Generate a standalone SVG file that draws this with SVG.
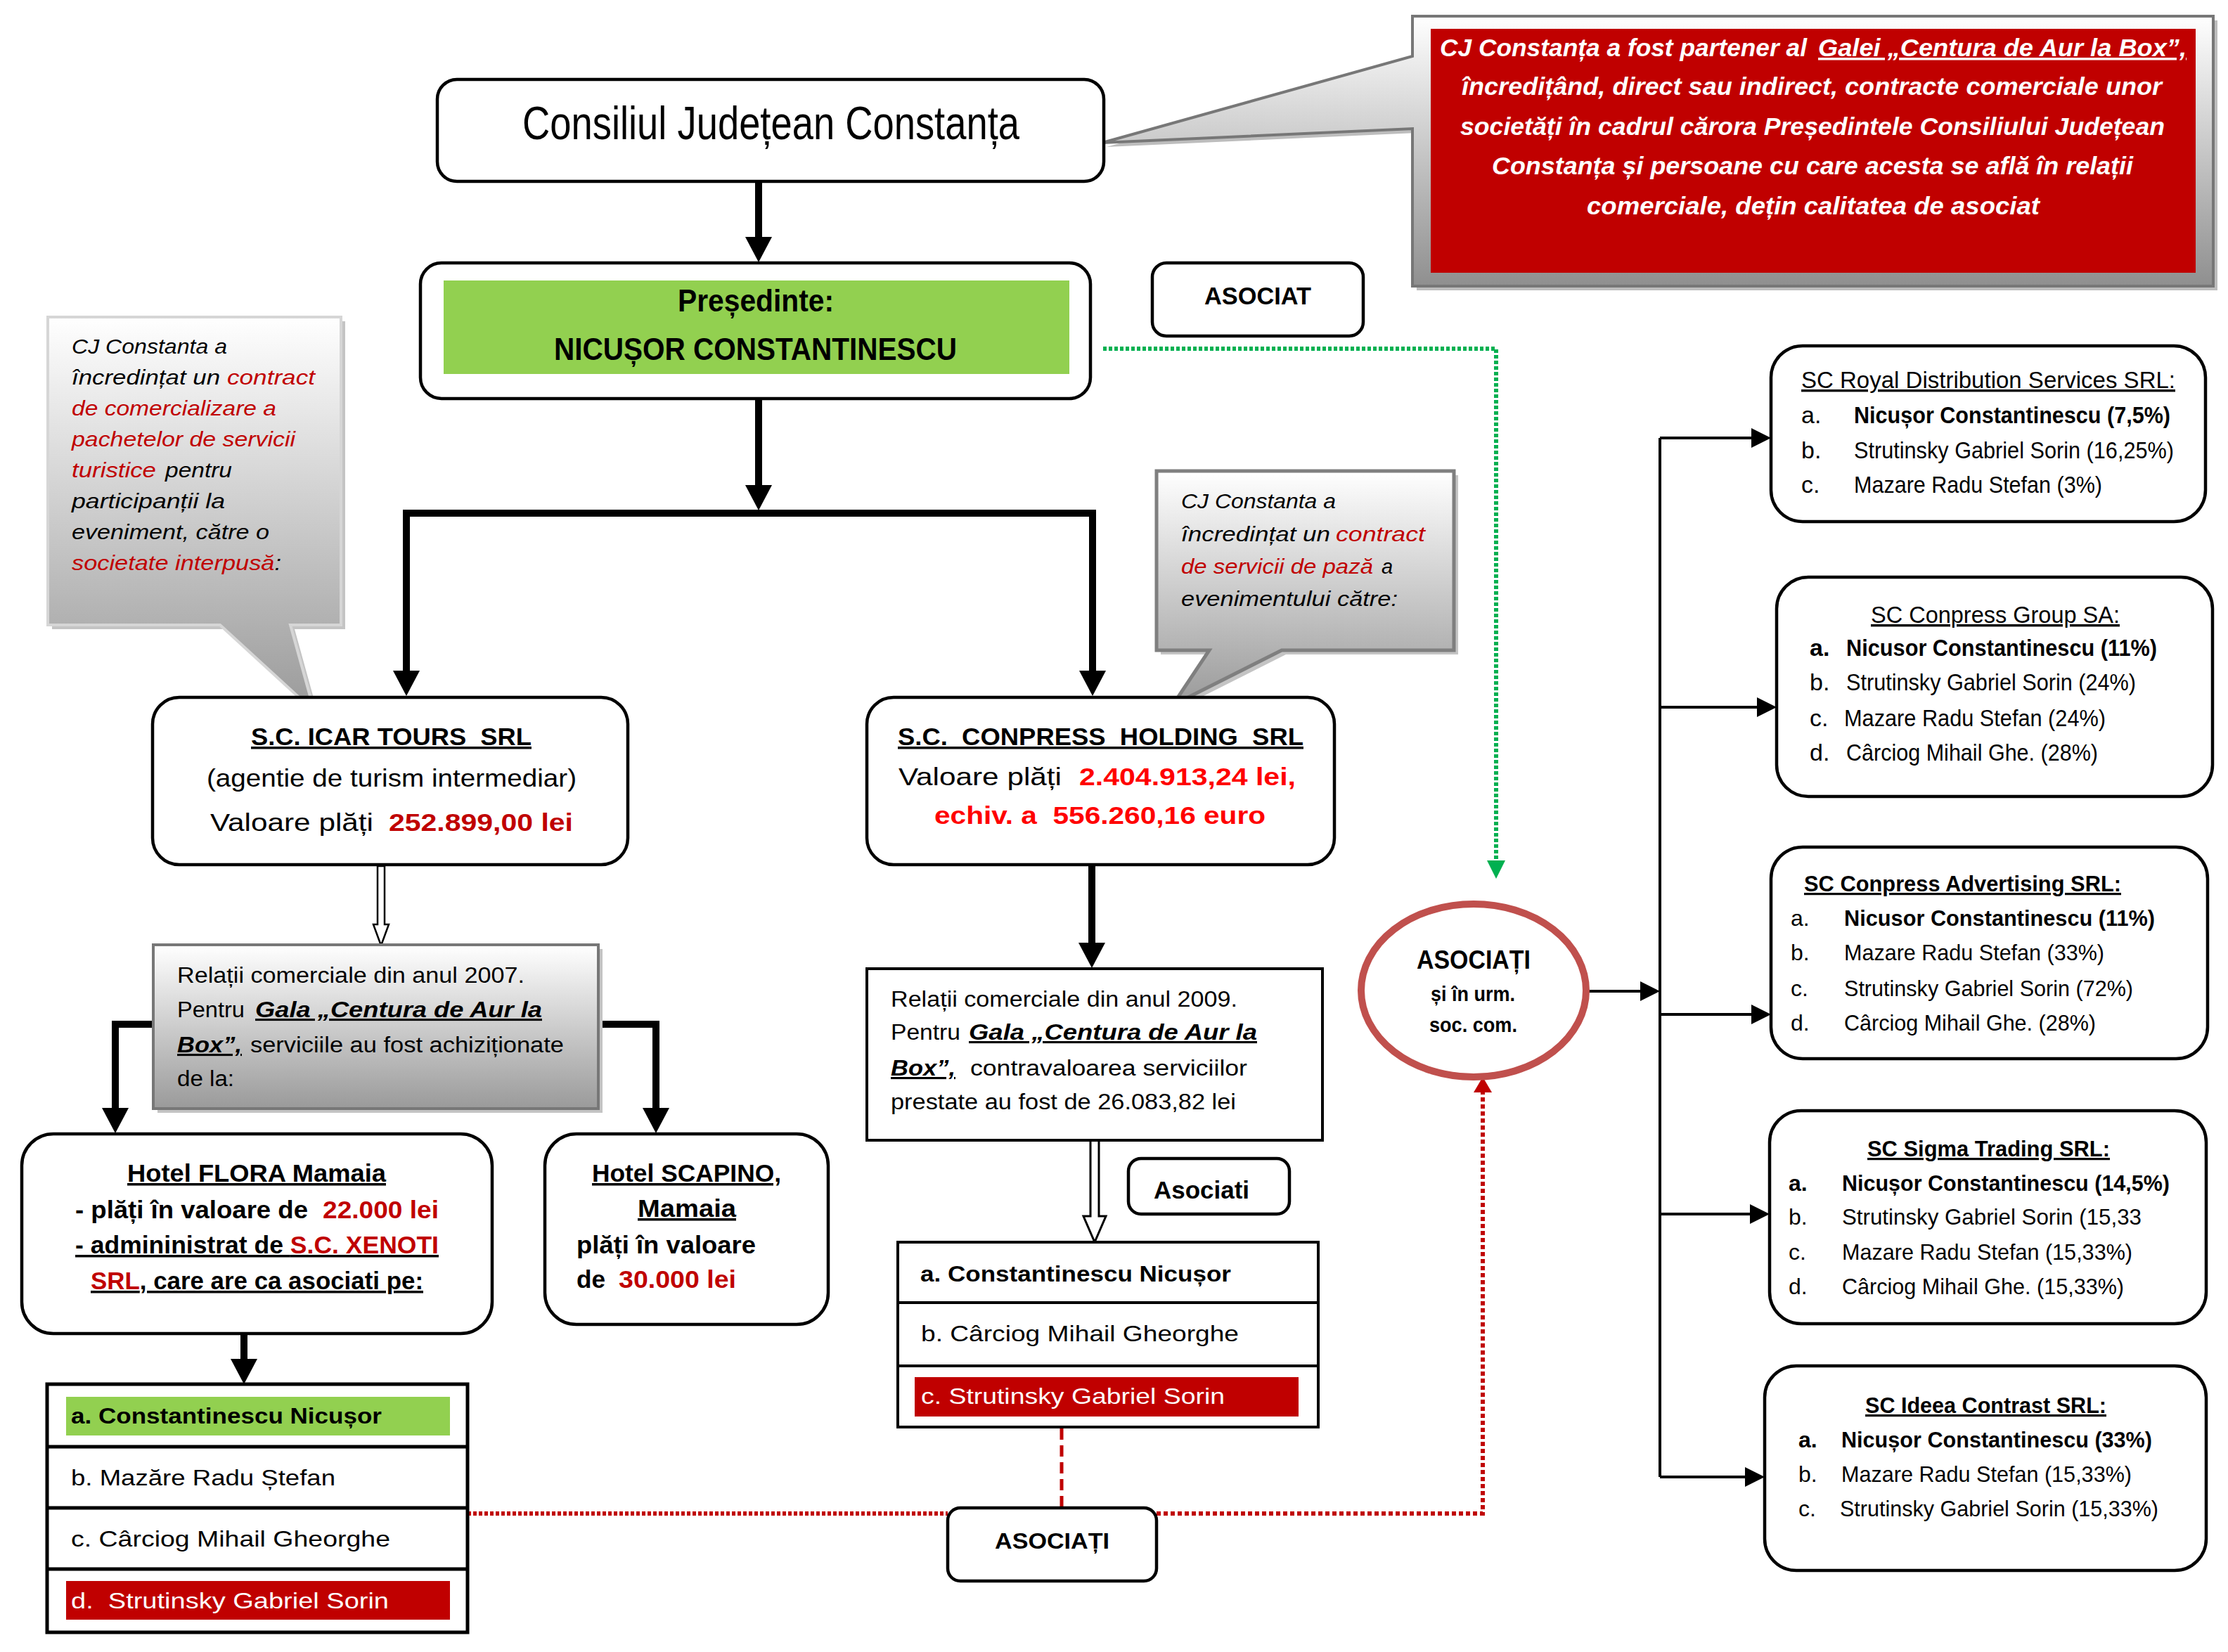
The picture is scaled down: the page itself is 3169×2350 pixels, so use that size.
<svg xmlns="http://www.w3.org/2000/svg" width="3169" height="2350" viewBox="0 0 3169 2350">
<style>
text{font-family:"Liberation Sans",Arial,sans-serif;fill:#000}
.b{font-weight:bold}
.i{font-style:italic}
.u{text-decoration:underline}
.pre{white-space:pre}
.dr{fill:#C00000}
.br{fill:#FF0000}
.w{fill:#fff}
.box{fill:#fff;stroke:#000;stroke-width:4.5}
.thick{fill:none;stroke:#000;stroke-width:10}
.thin{fill:none;stroke:#000;stroke-width:4}
.f35{font-size:35px}
.f31{font-size:31px}
.f29{font-size:29px}
.f32{font-size:32px}
.f34{font-size:34px}
</style>
<defs>
<linearGradient id="gc" x1="0" y1="0" x2="0" y2="1">
<stop offset="0" stop-color="#ffffff"/><stop offset="1" stop-color="#9a9a9a"/>
</linearGradient>
<linearGradient id="gb" x1="0" y1="0" x2="0" y2="1">
<stop offset="0" stop-color="#ffffff"/><stop offset="1" stop-color="#8f8f8f"/>
</linearGradient>
<marker id="ah" markerUnits="userSpaceOnUse" markerWidth="36" markerHeight="38" viewBox="0 0 36 38" refX="0" refY="19" orient="auto-start-reverse"><path d="M0,0 L36,19 L0,38 z" fill="#000"/></marker>
<marker id="ah2" markerUnits="userSpaceOnUse" markerWidth="28" markerHeight="28" viewBox="0 0 28 28" refX="0" refY="14" orient="auto"><path d="M0,0 L28,14 L0,28 z" fill="#000"/></marker>
<marker id="ahg" markerUnits="userSpaceOnUse" markerWidth="26" markerHeight="26" viewBox="0 0 26 26" refX="0" refY="13" orient="auto"><path d="M0,0 L26,13 L0,26 z" fill="#00B050"/></marker>
<marker id="ahr" markerUnits="userSpaceOnUse" markerWidth="22" markerHeight="26" viewBox="0 0 22 26" refX="0" refY="13" orient="auto"><path d="M0,0 L22,13 L0,26 z" fill="#C00000"/></marker>
</defs>
<rect width="3169" height="2350" fill="#fff"/>

<g id="connectors">
<path class="thick" d="M1079,258 V337" marker-end="url(#ah)"/>
<path class="thick" d="M1079,567 V690" marker-end="url(#ah)"/>
<path class="thick" d="M578,954 V730 H1554 V954" marker-start="url(#ah)" marker-end="url(#ah)"/>
<path class="thick" d="M1553,1230 V1341" marker-end="url(#ah)"/>
<path class="thick" d="M218,1457 H164 V1576" marker-end="url(#ah)"/>
<path class="thick" d="M851,1457 H933 V1576" marker-end="url(#ah)"/>
<path class="thick" d="M347,1897 V1933" marker-end="url(#ah)"/>
<polygon points="537,1232 547,1232 547,1315 553,1315 542,1345 531,1315 537,1315" fill="#fff" stroke="#000" stroke-width="2.5"/>
<polygon points="1551,1622 1563,1622 1563,1730 1573,1730 1557,1767 1541,1730 1551,1730" fill="#fff" stroke="#000" stroke-width="3"/>
<path d="M1569,496 H2128 V1224" fill="none" stroke="#00B050" stroke-width="6" stroke-dasharray="5 3" marker-end="url(#ahg)"/>
<path d="M665,2153 H1348" fill="none" stroke="#C00000" stroke-width="6" stroke-dasharray="5 3"/>
<path d="M1645,2153 H2109 V1554" fill="none" stroke="#C00000" stroke-width="6" stroke-dasharray="6 4" marker-end="url(#ahr)"/>
<path d="M1510,2032 V2145" fill="none" stroke="#C00000" stroke-width="5" stroke-dasharray="16 8"/>
<path class="thin" d="M2255,1410 H2333" marker-end="url(#ah2)"/>
<path class="thin" d="M2361,623 V2101"/>
<path class="thin" d="M2361,623 H2491" marker-end="url(#ah2)"/>
<path class="thin" d="M2361,1006 H2499" marker-end="url(#ah2)"/>
<path class="thin" d="M2361,1443 H2491" marker-end="url(#ah2)"/>
<path class="thin" d="M2361,1727 H2489" marker-end="url(#ah2)"/>
<path class="thin" d="M2361,2101 H2482" marker-end="url(#ah2)"/>
</g>

<g id="callout-red">
<path d="M2015,29 H3154 V413 H2015 V189 L1574,209 L2015,86 Z" fill="#bdbdbd"/>
<path d="M2009,23 H3148 V407 H2009 V183 L1568,203 L2009,80 Z" fill="url(#gb)" stroke="#777" stroke-width="4"/>
<rect x="2035" y="41" width="1088" height="347" fill="#C00000"/>
<text class="b i w" font-size="35" x="2048" y="80" textLength="522" lengthAdjust="spacingAndGlyphs">CJ Constanța a fost partener al</text>
<text class="b i w u" font-size="35" x="2586" y="80" textLength="524" lengthAdjust="spacingAndGlyphs">Galei „Centura de Aur la Box”,</text>
<text class="b i w" font-size="35" x="2079" y="135" textLength="996" lengthAdjust="spacingAndGlyphs">încredițând, direct sau indirect, contracte comerciale unor</text>
<text class="b i w" font-size="35" x="2077" y="192" textLength="1002" lengthAdjust="spacingAndGlyphs">societăți în cadrul cărora Președintele Consiliului Județean</text>
<text class="b i w" font-size="35" x="2122" y="248" textLength="912" lengthAdjust="spacingAndGlyphs">Constanța și persoane cu care acesta se află în relații</text>
<text class="b i w" font-size="35" x="2257" y="305" textLength="644" lengthAdjust="spacingAndGlyphs">comerciale, dețin calitatea de asociat</text>
</g>

<g id="consiliul">
<rect class="box" x="622" y="113" width="948" height="145" rx="28"/>
<text font-size="66" x="743" y="198" textLength="707" lengthAdjust="spacingAndGlyphs">Consiliul Județean Constanța</text>
</g>

<g id="presedinte">
<rect class="box" x="598" y="374" width="953" height="193" rx="30"/>
<rect x="631" y="399" width="890" height="133" fill="#92D050"/>
<text class="b" font-size="44" x="964" y="443" textLength="222" lengthAdjust="spacingAndGlyphs">Președinte:</text>
<text class="b" font-size="44" x="788" y="512" textLength="573" lengthAdjust="spacingAndGlyphs">NICUȘOR CONSTANTINESCU</text>
</g>

<g id="asociat-label">
<rect class="box" x="1639" y="374" width="300" height="104" rx="20"/>
<text class="b f35" x="1713" y="433" textLength="152" lengthAdjust="spacingAndGlyphs">ASOCIAT</text>
</g>

<g id="callout-left">
<path d="M74,457 H491 V895 H419 L453,1018 L319,895 H74 Z" fill="#c4c4c4"/>
<path d="M68,451 H485 V889 H413 L447,1012 L313,889 H68 Z" fill="url(#gc)" stroke="#d6d6d6" stroke-width="4"/>
<text class="i f29" x="102" y="503" textLength="221" lengthAdjust="spacingAndGlyphs">CJ Constanta a</text>
<text class="i f29" x="102" y="547" textLength="211" lengthAdjust="spacingAndGlyphs">încredințat un</text>
<text class="i f29 dr" x="323" y="547" textLength="125" lengthAdjust="spacingAndGlyphs">contract</text>
<text class="i f29 dr" x="102" y="591" textLength="291" lengthAdjust="spacingAndGlyphs">de comercializare a</text>
<text class="i f29 dr" x="102" y="635" textLength="318" lengthAdjust="spacingAndGlyphs">pachetelor de servicii</text>
<text class="i f29 dr" x="102" y="679" textLength="120" lengthAdjust="spacingAndGlyphs">turistice</text>
<text class="i f29" x="235" y="679" textLength="95" lengthAdjust="spacingAndGlyphs">pentru</text>
<text class="i f29" x="102" y="723" textLength="218" lengthAdjust="spacingAndGlyphs">participanții la</text>
<text class="i f29" x="102" y="767" textLength="281" lengthAdjust="spacingAndGlyphs">eveniment, către o</text>
<text class="i f29" x="102" y="811" textLength="298" lengthAdjust="spacingAndGlyphs"><tspan class="dr">societate interpusă</tspan>:</text>
</g>

<g id="callout-right">
<path d="M1651,676 H2074 V931 H1829 L1674,1009 L1726,931 H1651 Z" fill="#c4c4c4"/>
<path d="M1645,670 H2068 V925 H1823 L1668,1003 L1720,925 H1645 Z" fill="url(#gc)" stroke="#7f7f7f" stroke-width="5"/>
<text class="i f29" x="1680" y="723" textLength="220" lengthAdjust="spacingAndGlyphs">CJ Constanta a</text>
<text class="i f29" x="1680" y="770" textLength="212" lengthAdjust="spacingAndGlyphs">încredințat un</text>
<text class="i f29 dr" x="1900" y="770" textLength="127" lengthAdjust="spacingAndGlyphs">contract</text>
<text class="i f29 dr" x="1680" y="816" textLength="273" lengthAdjust="spacingAndGlyphs">de servicii de pază</text>
<text class="i f29" x="1965" y="816">a</text>
<text class="i f29" x="1680" y="862" textLength="308" lengthAdjust="spacingAndGlyphs">evenimentului către:</text>
</g>

<g id="icar">
<rect class="box" x="217" y="992" width="676" height="238" rx="38"/>
<text class="b u f35 pre" x="357" y="1060" textLength="399" lengthAdjust="spacingAndGlyphs">S.C. ICAR TOURS  SRL</text>
<text class="f35" x="294" y="1119" textLength="526" lengthAdjust="spacingAndGlyphs">(agentie de turism intermediar)</text>
<text class="f35" x="299" y="1182" textLength="232" lengthAdjust="spacingAndGlyphs">Valoare plăți</text>
<text class="b f35 dr" x="553" y="1182" textLength="262" lengthAdjust="spacingAndGlyphs">252.899,00 lei</text>
</g>

<g id="conpress-holding">
<rect class="box" x="1233" y="992" width="665" height="238" rx="38"/>
<text class="b u f35 pre" x="1277" y="1060" textLength="577" lengthAdjust="spacingAndGlyphs">S.C.  CONPRESS  HOLDING  SRL</text>
<text class="f35" x="1278" y="1117" textLength="232" lengthAdjust="spacingAndGlyphs">Valoare plăți</text>
<text class="b f35 br" x="1535" y="1117" textLength="308" lengthAdjust="spacingAndGlyphs">2.404.913,24 lei,</text>
<text class="b f35 br pre" x="1329" y="1172" textLength="471" lengthAdjust="spacingAndGlyphs">echiv. a  556.260,16 euro</text>
</g>

<g id="relatii-2007">
<rect x="224" y="1350" width="633" height="233" fill="#c4c4c4"/>
<rect x="218" y="1344" width="633" height="233" fill="url(#gc)" stroke="#777" stroke-width="4"/>
<text class="f31" x="252" y="1398" textLength="494" lengthAdjust="spacingAndGlyphs">Relații comerciale din anul 2007.</text>
<text class="f31" x="252" y="1447" textLength="96" lengthAdjust="spacingAndGlyphs">Pentru</text>
<text class="f31 b i u" x="363" y="1447" textLength="408" lengthAdjust="spacingAndGlyphs">Gala „Centura de Aur la</text>
<text class="f31 b i u" x="252" y="1497" textLength="92" lengthAdjust="spacingAndGlyphs">Box”,</text>
<text class="f31" x="356" y="1497" textLength="446" lengthAdjust="spacingAndGlyphs">serviciile au fost achiziționate</text>
<text class="f31" x="252" y="1545" textLength="81" lengthAdjust="spacingAndGlyphs">de la:</text>
</g>

<g id="relatii-2009">
<rect x="1233" y="1378" width="648" height="244" fill="#fff" stroke="#000" stroke-width="4"/>
<text class="f31" x="1267" y="1432" textLength="493" lengthAdjust="spacingAndGlyphs">Relații comerciale din anul 2009.</text>
<text class="f31" x="1267" y="1479" textLength="99" lengthAdjust="spacingAndGlyphs">Pentru</text>
<text class="f31 b i u" x="1378" y="1479" textLength="410" lengthAdjust="spacingAndGlyphs">Gala „Centura de Aur la</text>
<text class="f31 b i u" x="1267" y="1530" textLength="92" lengthAdjust="spacingAndGlyphs">Box”,</text>
<text class="f31" x="1380" y="1530" textLength="394" lengthAdjust="spacingAndGlyphs">contravaloarea serviciilor</text>
<text class="f31" x="1267" y="1578" textLength="491" lengthAdjust="spacingAndGlyphs">prestate au fost de 26.083,82 lei</text>
</g>

<g id="asociati-label">
<rect class="box" x="1605" y="1648" width="229" height="79" rx="18"/>
<text class="b f35" x="1641" y="1705" textLength="136" lengthAdjust="spacingAndGlyphs">Asociati</text>
</g>

<g id="conpress-asociati">
<rect x="1277" y="1767" width="598" height="263" fill="#fff" stroke="#000" stroke-width="4"/>
<path d="M1277,1853 H1875 M1277,1943 H1875" stroke="#000" stroke-width="4"/>
<text class="b f32" x="1309" y="1823" textLength="442" lengthAdjust="spacingAndGlyphs">a. Constantinescu Nicușor</text>
<text class="f32" x="1310" y="1908" textLength="452" lengthAdjust="spacingAndGlyphs">b. Cârciog Mihail Gheorghe</text>
<rect x="1301" y="1959" width="546" height="56" fill="#C00000"/>
<text class="f32 w" x="1310" y="1997" textLength="432" lengthAdjust="spacingAndGlyphs">c. Strutinsky Gabriel Sorin</text>
</g>

<g id="hotel-flora">
<rect class="box" x="31" y="1613" width="669" height="284" rx="45"/>
<text class="b u f35" x="181" y="1681" textLength="368" lengthAdjust="spacingAndGlyphs">Hotel FLORA Mamaia</text>
<text class="b f35" x="107" y="1733" textLength="331" lengthAdjust="spacingAndGlyphs">- plăți în valoare de</text>
<text class="b f35 dr" x="459" y="1733" textLength="165" lengthAdjust="spacingAndGlyphs">22.000 lei</text>
<text class="b u f35" x="107" y="1783" textLength="517" lengthAdjust="spacingAndGlyphs">- admininistrat de <tspan class="dr">S.C. XENOTI</tspan></text>
<text class="b u f35" x="129" y="1834" textLength="473" lengthAdjust="spacingAndGlyphs"><tspan class="dr">SRL</tspan>, care are ca asociati pe:</text>
</g>

<g id="hotel-scapino">
<rect class="box" x="775" y="1613" width="403" height="271" rx="45"/>
<text class="b u f35" x="842" y="1681" textLength="269" lengthAdjust="spacingAndGlyphs">Hotel SCAPINO,</text>
<text class="b u f35" x="907" y="1731" textLength="140" lengthAdjust="spacingAndGlyphs">Mamaia</text>
<text class="b f35" x="820" y="1783" textLength="255" lengthAdjust="spacingAndGlyphs">plăți în valoare</text>
<text class="b f35" x="820" y="1832" textLength="41" lengthAdjust="spacingAndGlyphs">de</text>
<text class="b f35 dr" x="880" y="1832" textLength="167" lengthAdjust="spacingAndGlyphs">30.000 lei</text>
</g>

<g id="flora-asociati">
<rect x="67" y="1969" width="598" height="353" fill="#fff" stroke="#000" stroke-width="5"/>
<path d="M67,2058 H665 M67,2145 H665 M67,2232 H665" stroke="#000" stroke-width="5"/>
<rect x="94" y="1987" width="546" height="55" fill="#92D050"/>
<text class="b f32" x="101" y="2025" textLength="442" lengthAdjust="spacingAndGlyphs">a. Constantinescu Nicușor</text>
<text class="f32" x="101" y="2113" textLength="376" lengthAdjust="spacingAndGlyphs">b. Mazăre Radu Ștefan</text>
<text class="f32" x="101" y="2200" textLength="454" lengthAdjust="spacingAndGlyphs">c. Cârciog Mihail Gheorghe</text>
<rect x="94" y="2249" width="546" height="55" fill="#C00000"/>
<text class="f32 w pre" x="101" y="2288" textLength="452" lengthAdjust="spacingAndGlyphs">d.  Strutinsky Gabriel Sorin</text>
</g>

<g id="asociati-bottom">
<rect class="box" x="1348" y="2145" width="297" height="104" rx="18"/>
<text class="b f32" x="1415" y="2203" textLength="163" lengthAdjust="spacingAndGlyphs">ASOCIAȚI</text>
</g>

<g id="asociati-ellipse">
<ellipse cx="2096" cy="1409" rx="160" ry="123" fill="#fff" stroke="#C0504D" stroke-width="10"/>
<text class="b" font-size="36" x="2015" y="1378" textLength="162" lengthAdjust="spacingAndGlyphs">ASOCIAȚI</text>
<text class="b" font-size="29" x="2035" y="1424" textLength="120" lengthAdjust="spacingAndGlyphs">și în urm.</text>
<text class="b" font-size="29" x="2033" y="1468" textLength="125" lengthAdjust="spacingAndGlyphs">soc. com.</text>
</g>

<g id="royal">
<rect class="box" x="2519" y="492" width="618" height="250" rx="45"/>
<text class="u f34" x="2562" y="552" textLength="532" lengthAdjust="spacingAndGlyphs">SC Royal Distribution Services SRL:</text>
<text class="f34" x="2562" y="602">a.</text>
<text class="b f34" x="2637" y="602" textLength="450" lengthAdjust="spacingAndGlyphs">Nicușor Constantinescu (7,5%)</text>
<text class="f34" x="2562" y="652">b.</text>
<text class="f34" x="2637" y="652" textLength="455" lengthAdjust="spacingAndGlyphs">Strutinsky Gabriel Sorin (16,25%)</text>
<text class="f34" x="2562" y="701">c.</text>
<text class="f34" x="2637" y="701" textLength="353" lengthAdjust="spacingAndGlyphs">Mazare Radu Stefan (3%)</text>
</g>

<g id="conpress-group">
<rect class="box" x="2527" y="821" width="620" height="312" rx="45"/>
<text class="u f34" x="2661" y="886" textLength="354" lengthAdjust="spacingAndGlyphs">SC Conpress Group SA:</text>
<text class="b f34" x="2574" y="933">a.</text>
<text class="b f34" x="2626" y="933" textLength="442" lengthAdjust="spacingAndGlyphs">Nicusor Constantinescu (11%)</text>
<text class="f34" x="2574" y="982">b.</text>
<text class="f34" x="2626" y="982" textLength="412" lengthAdjust="spacingAndGlyphs">Strutinsky Gabriel Sorin (24%)</text>
<text class="f34" x="2574" y="1033">c.</text>
<text class="f34" x="2623" y="1033" textLength="372" lengthAdjust="spacingAndGlyphs">Mazare Radu Stefan (24%)</text>
<text class="f34" x="2574" y="1082">d.</text>
<text class="f34" x="2626" y="1082" textLength="358" lengthAdjust="spacingAndGlyphs">Cârciog Mihail Ghe. (28%)</text>
</g>

<g id="conpress-advertising">
<rect class="box" x="2519" y="1205" width="621" height="301" rx="45"/>
<text class="b u f32" x="2566" y="1268" textLength="451" lengthAdjust="spacingAndGlyphs">SC Conpress Advertising SRL:</text>
<text class="f32" x="2547" y="1317">a.</text>
<text class="b f32" x="2623" y="1317" textLength="442" lengthAdjust="spacingAndGlyphs">Nicusor Constantinescu (11%)</text>
<text class="f32" x="2547" y="1366">b.</text>
<text class="f32" x="2623" y="1366" textLength="370" lengthAdjust="spacingAndGlyphs">Mazare Radu Stefan (33%)</text>
<text class="f32" x="2547" y="1417">c.</text>
<text class="f32" x="2623" y="1417" textLength="411" lengthAdjust="spacingAndGlyphs">Strutinsky Gabriel Sorin (72%)</text>
<text class="f32" x="2547" y="1466">d.</text>
<text class="f32" x="2623" y="1466" textLength="358" lengthAdjust="spacingAndGlyphs">Cârciog Mihail Ghe. (28%)</text>
</g>

<g id="sigma-trading">
<rect class="box" x="2517" y="1580" width="621" height="303" rx="45"/>
<text class="b u f32" x="2656" y="1645" textLength="345" lengthAdjust="spacingAndGlyphs">SC Sigma Trading SRL:</text>
<text class="b f32" x="2544" y="1694">a.</text>
<text class="b f32" x="2620" y="1694" textLength="466" lengthAdjust="spacingAndGlyphs">Nicușor Constantinescu (14,5%)</text>
<text class="f32" x="2544" y="1742">b.</text>
<text class="f32" x="2620" y="1742" textLength="426" lengthAdjust="spacingAndGlyphs">Strutinsky Gabriel Sorin (15,33</text>
<text class="f32" x="2544" y="1792">c.</text>
<text class="f32" x="2620" y="1792" textLength="413" lengthAdjust="spacingAndGlyphs">Mazare Radu Stefan (15,33%)</text>
<text class="f32" x="2544" y="1841">d.</text>
<text class="f32" x="2620" y="1841" textLength="401" lengthAdjust="spacingAndGlyphs">Cârciog Mihail Ghe. (15,33%)</text>
</g>

<g id="ideea-contrast">
<rect class="box" x="2510" y="1943" width="628" height="291" rx="45"/>
<text class="b u f32" x="2653" y="2010" textLength="343" lengthAdjust="spacingAndGlyphs">SC Ideea Contrast SRL:</text>
<text class="b f32" x="2558" y="2059">a.</text>
<text class="b f32" x="2619" y="2059" textLength="442" lengthAdjust="spacingAndGlyphs">Nicușor Constantinescu (33%)</text>
<text class="f32" x="2558" y="2108">b.</text>
<text class="f32" x="2619" y="2108" textLength="413" lengthAdjust="spacingAndGlyphs">Mazare Radu Stefan (15,33%)</text>
<text class="f32" x="2558" y="2157">c.</text>
<text class="f32" x="2617" y="2157" textLength="453" lengthAdjust="spacingAndGlyphs">Strutinsky Gabriel Sorin (15,33%)</text>
</g>
</svg>
